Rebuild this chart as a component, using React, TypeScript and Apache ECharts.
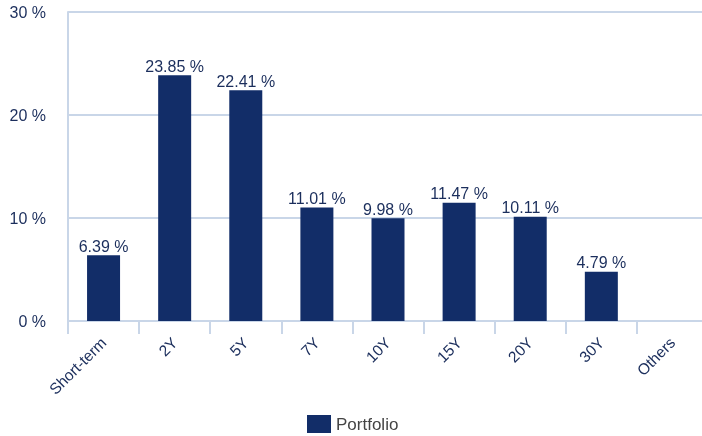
import React, { useEffect, useRef } from "react";
import * as echarts from "echarts";

const categories = ["Short-term", "2Y", "5Y", "7Y", "10Y", "15Y", "20Y", "30Y", "Others"];
const portfolio: (number | null)[] = [6.39, 23.85, 22.41, 11.01, 9.98, 11.47, 10.11, 4.79, null];
const seriesName = "Portfolio";

export default function App() {
  const ref = useRef<HTMLDivElement>(null);
  useEffect(() => {
    if (!ref.current) return;
    const chart = echarts.init(ref.current, undefined, { renderer: "svg" });
    const font = "Liberation Sans, Arial, Helvetica, sans-serif";
    const navy = "#122d68";
    const textColor = "#1b2e5c";
    const lineColor = "#c9d6e8";
    chart.setOption({
      animation: false,
      textStyle: { fontFamily: font },
      grid: { left: 68, right: 0, top: 12, bottom: 115, containLabel: false },
      legend: {
        bottom: 3,
        left: 307,
        padding: 0,
        icon: "rect",
        itemWidth: 24,
        itemHeight: 18,
        itemGap: 8,
        textStyle: { color: "#444", fontSize: 17, fontFamily: font },
        data: [seriesName],
      },
      xAxis: {
        type: "category",
        data: categories,
        boundaryGap: true,
        axisLine: { lineStyle: { color: lineColor, width: 2 } },
        axisTick: { show: true, length: 13, lineStyle: { color: lineColor, width: 2 } },
        axisLabel: { rotate: 45, color: textColor, fontSize: 15.5, margin: 19, fontFamily: font, interval: 0 },
      },
      yAxis: {
        type: "value",
        min: 0,
        max: 30,
        interval: 10,
        axisLine: { show: true, lineStyle: { color: lineColor, width: 2 } },
        axisTick: { show: false },
        splitLine: { lineStyle: { color: lineColor, width: 2 } },
        axisLabel: { formatter: "{value} %", color: textColor, fontSize: 16, margin: 22, fontFamily: font },
      },
      series: [
        {
          name: seriesName,
          type: "bar",
          data: portfolio,
          barWidth: 33,
          itemStyle: { color: navy },
          label: {
            show: true,
            position: "top",
            distance: 1,
            color: textColor,
            fontSize: 16,
            fontFamily: font,
            formatter: (p: any) => (p.value == null ? "" : p.value.toFixed(2) + " %"),
          },
        },
      ],
    });
    return () => chart.dispose();
  }, []);
  return <div ref={ref} style={{ position: "fixed", left: 0, top: 0, width: 708, height: 436 }} />;
}
